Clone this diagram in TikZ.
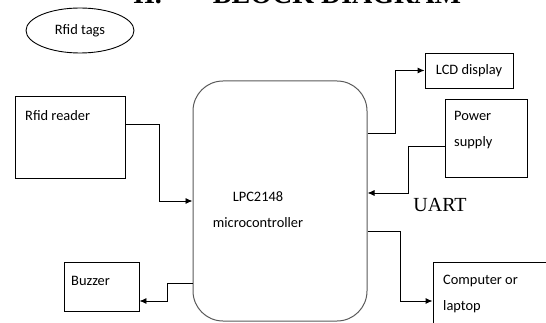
\documentclass[tikz,border=0pt]{standalone}
\usepackage{fontspec}
\setmainfont{Carlito}
\newfontfamily\uartfont{Liberation Serif}
\usetikzlibrary{shapes,arrows.meta}

\tikzstyle{txt} = [font=\fontsize{14.4}{26}\selectfont]
\tikzstyle{block} = [rectangle, draw, line width=0.9pt, inner sep=0pt]
\tikzstyle{mcublock} = [rectangle, draw=black!65, line width=1pt, rounded corners=30pt, inner sep=0pt]
\tikzstyle{caption} = [txt, anchor=west, inner sep=0pt, align=left]
\tikzstyle{line} = [draw, line width=0.9pt, -{Latex[length=7pt,width=6pt]}]

\begin{document}
\begin{tikzpicture}[x=1pt, y=-1pt]
\useasboundingbox (0,0) rectangle (546,323);
\clip (0,0) rectangle (546,323);

% heading, cut off by the top of the page
\node [anchor=base west, inner sep=0pt, font=\uartfont\bfseries\fontsize{28}{30}\selectfont] (heading) at (133,4) {II.\hspace{51pt}BLOCK DIAGRAM};

\node [ellipse, draw, line width=0.9pt, txt, minimum width=108pt, minimum height=45pt, inner sep=0pt] (tags) at (80,30.5) {Rfid tags\hspace{14pt}};

\node [block, minimum width=110pt, minimum height=82pt] (reader) at (70,137) {};
\node [caption] (reader-text) at (25,116) {Rfid reader};

\node [mcublock, minimum width=174pt, minimum height=240pt] (mcu) at (280,201) {};
\node [txt, align=center, inner sep=0pt] (mcu-text) at (258,209.5) {LPC2148\\microcontroller};

\node [block, txt, minimum width=88pt, minimum height=35pt] (lcd) at (469,70.5) {LCD display};

\node [block, minimum width=82pt, minimum height=78pt] (power) at (486,138) {};
\node [caption] (power-text) at (454,130) {Power\\supply};

\node [block, minimum width=75pt, minimum height=49pt] (buzzer) at (101.5,286.5) {};
\node [caption] (buzzer-text) at (71,281) {Buzzer};

\node [block, minimum width=133pt, minimum height=78pt] (pc) at (499.5,301) {};
\node [caption] (pc-text) at (443,294) {Computer or\\laptop};

\node [inner sep=0pt, font=\uartfont\fontsize{20}{22}\selectfont] (uart) at (440,204.5) {UART};

% links between the blocks
\path [line] ([yshift=13pt]reader.east) -| ([xshift=-33pt]mcu.west) -- (mcu.west);
\path [line] ([yshift=68pt]mcu.east) -| ([xshift=-29pt]lcd.west) -- (lcd.west);
\path [line] ([yshift=-8pt]power.west) -| ([xshift=41pt,yshift=8pt]mcu.east) -- ([yshift=8pt]mcu.east);
\path [line] ([yshift=-82pt]mcu.west) -| ([xshift=28pt,yshift=-14.5pt]buzzer.east) -- ([yshift=-14.5pt]buzzer.east);
\path [line] ([yshift=-30pt]mcu.east) -| ([xshift=-32pt]pc.west) -- (pc.west);

\end{tikzpicture}
\end{document}
